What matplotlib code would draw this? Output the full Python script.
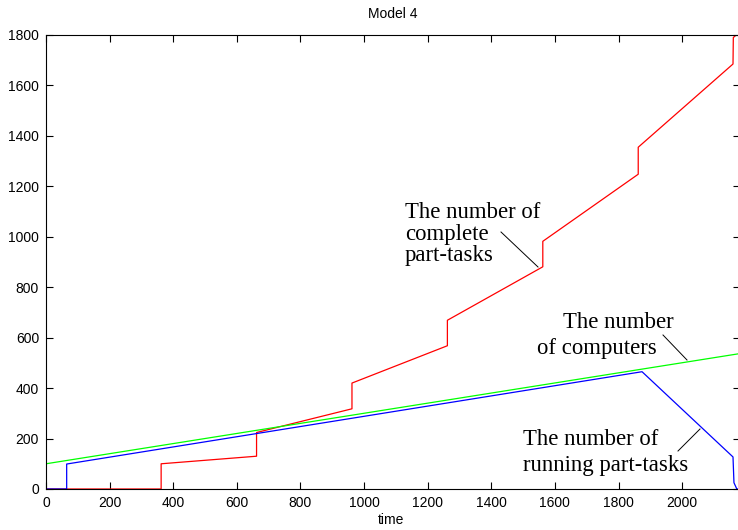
import matplotlib
matplotlib.use("Agg")
import matplotlib.pyplot as plt
from matplotlib.lines import Line2D

# ---- data ----
red_t = [0, 362, 362, 662, 662, 962, 962, 1262, 1262, 1562, 1562, 1862, 1862, 2160, 2161, 2170, 2182]
red_v = [0, 0, 100, 130, 224, 318, 420, 568, 669, 881, 982, 1248, 1355, 1685, 1790, 1800, 1805]

green_t = [0, 2182]
green_v = [100, 537]

blue_t = [0, 65, 65, 1874, 2160, 2163, 2172, 2182]
blue_v = [0, 0, 99, 465, 127, 25, 0, 0]

xticks = list(range(0, 2001, 200))
yticks = list(range(0, 1801, 200))

W, H = 738, 530
fig = plt.figure(figsize=(W / 100, H / 100), dpi=100)
left, right, top, bottom = 46, 740, 35, 489
ax = fig.add_axes([left / W, 1 - bottom / H, (right - left) / W, (bottom - top) / H])

ax.plot(red_t, red_v, color="#ff0000", lw=0.9)
ax.plot(green_t, green_v, color="#00ff00", lw=0.9)
ax.plot(blue_t, blue_v, color="#0000ff", lw=0.9)

ax.set_xlim(0, 2182)
ax.set_ylim(0, 1800)
ax.set_xticks(xticks)
ax.set_yticks(yticks)
ax.tick_params(direction="in", top=True, right=True, length=5, width=0.8,
               labelsize=10, pad=5)
for lab in ax.get_xticklabels() + ax.get_yticklabels():
    lab.set_family("Liberation Sans")
for s in ax.spines.values():
    s.set_linewidth(0.8)

ax.set_title("Model 4", fontsize=10, family="Liberation Sans", pad=12)
ax.set_xlabel("time", fontsize=10, family="Liberation Sans")
ax.xaxis.set_label_coords((391 - left) / (right - left), -(513 - bottom) / (bottom - top))

serif = dict(family="Liberation Serif", fontsize=16.4, va="baseline", ha="left")

def ftext(x, y, s):
    fig.text(x / W, 1 - y / H, s, **serif)

def fline(x0, y0, x1, y1):
    fig.add_artist(Line2D([x0 / W, x1 / W], [1 - y0 / H, 1 - y1 / H],
                          transform=fig.transFigure, color="black", lw=0.7))

ftext(405, 218, "The number of")
ftext(405, 240, "complete")
ftext(405, 261, "part-tasks")
fline(501, 232, 538, 267)

ftext(563, 328, "The number")
ftext(537, 354, "of computers")
fline(663, 335, 687, 360)

ftext(523, 445, "The number of")
ftext(523, 471, "running part-tasks")
fline(678, 451, 700, 429)

fig.savefig("out.png", dpi=100)
